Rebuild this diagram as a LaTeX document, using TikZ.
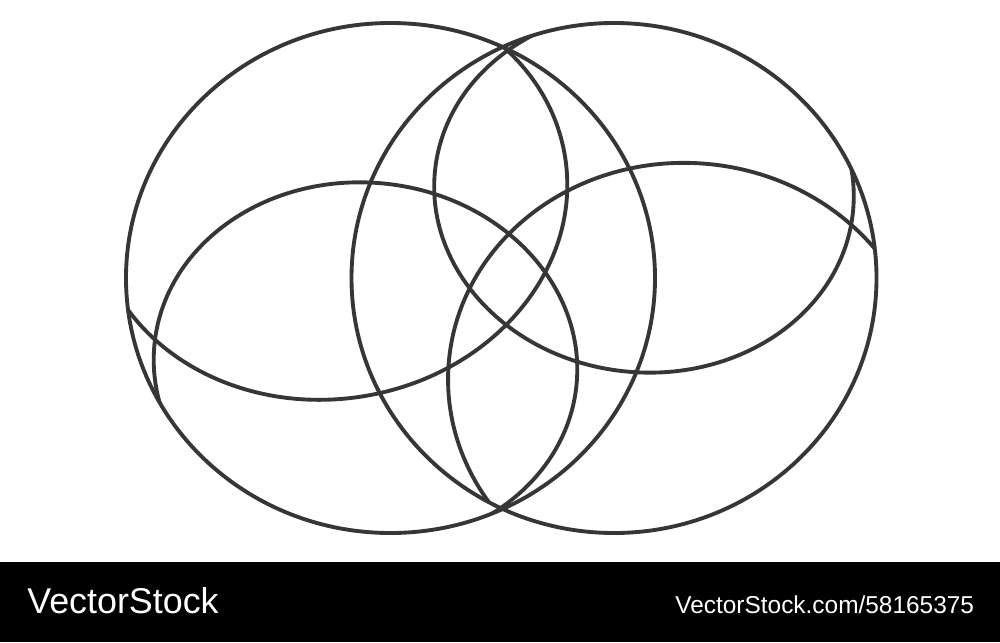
\documentclass[tikz,border=0pt]{standalone}
\usepackage{fontspec}
\setmainfont{Liberation Sans}
\usepackage{tikz}

\definecolor{ringgray}{HTML}{363636}

\tikzset{
  ring/.style={draw=ringgray, line width=2.2pt},
  banner/.style={text=white, inner sep=0pt, anchor=base west}
}

\begin{document}
\begin{tikzpicture}[x=0.02cm, y=0.02cm]
  \fill[white] (0,0) rectangle (1000,-642);

  % sphere centres and the centres of their inner rings
  \coordinate (lc) at (390.5,-278);
  \coordinate (rc) at (614,-278);
  \coordinate (la) at (365.5,-364.6);
  \coordinate (lb) at (330,-194);
  \coordinate (ra) at (644,-191.4);
  \coordinate (rb) at (687,-382);

  % left sphere
  \begin{scope}
    \clip (lc) ellipse [x radius=264.5, y radius=255];
    \draw[ring, rotate around={-5.1:(la)}] (la) ellipse [x radius=212, y radius=182];
    \draw[ring, rotate around={8.7:(lb)}] (lb) ellipse [x radius=238, y radius=205];
  \end{scope}

  % right sphere
  \begin{scope}
    \clip (rc) ellipse [x radius=262.5, y radius=255];
    \draw[ring, rotate around={-5.1:(ra)}] (ra) ellipse [x radius=210, y radius=181];
    \draw[ring, rotate around={-4.1:(rb)}] (rb) ellipse [x radius=239, y radius=219];
  \end{scope}

  \draw[ring] (lc) ellipse [x radius=264.5, y radius=255];
  \draw[ring] (rc) ellipse [x radius=262.5, y radius=255];

  % banner
  \fill[black] (0,-562) rectangle (1000,-642);
  \node[banner, font=\fontsize{20.4}{21}\selectfont] (logo) at (27,-613) {VectorStock};
  \node[banner, font=\fontsize{13.9}{14}\selectfont] (ref) at (675,-613) {VectorStock.com/58165375};
\end{tikzpicture}
\end{document}
